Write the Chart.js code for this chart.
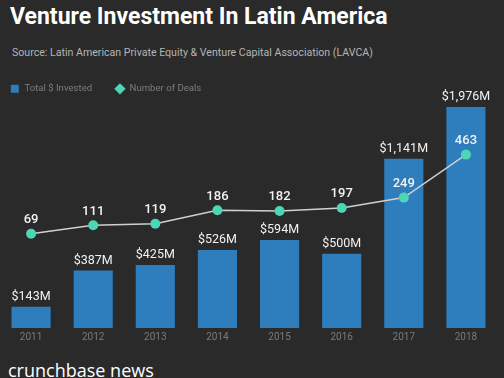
<!DOCTYPE html>
<html>
<head>
<meta charset="utf-8">
<script src="https://cdn.jsdelivr.net/npm/chart.js@4/dist/chart.umd.min.js"></script>
<style>
  html, body { margin: 0; padding: 0; background: #2a2a2a; }
  body { width: 504px; height: 378px; position: relative; overflow: hidden; font-family: Roboto, "Open Sans", sans-serif; }
  #title { position: absolute; left: 10px; top: 3px; color: #ffffff; font-weight: bold; font-size: 23px; white-space: nowrap; }
  #source { position: absolute; left: 12px; top: 46px; color: #b5b5b5; font-size: 10.6px; white-space: nowrap; }
  #brand { position: absolute; left: 8px; top: 358px; color: #ffffff; font-size: 18px; font-family: "Open Sans", sans-serif; white-space: nowrap; }
  #wrap { position: absolute; left: 0; top: 76px; width: 504px; height: 270px; }
</style>
</head>
<body>
<div id="title">Venture Investment In Latin America</div>
<div id="source">Source: Latin American Private Equity &amp; Venture Capital Association (LAVCA)</div>
<div id="wrap"><canvas id="myChart"></canvas></div>
<div id="brand">crunchbase news</div>
<script>
var years = ['2011', '2012', '2013', '2014', '2015', '2016', '2017', '2018'];
var invested = [143, 387, 425, 526, 594, 500, 1141, 1976];
var deals = [69, 111, 119, 186, 182, 197, 249, 463];

var blue = '#2e7dbc';
var teal = '#4cd6b6';

function money(v) {
    return '$' + v.toLocaleString('en-US') + 'M';
}

// value labels above bars and points
var valueLabels = {
    id: 'valueLabels',
    afterDatasetsDraw: function (chart) {
        var ctx = chart.ctx;
        var top = chart.chartArea.top;
        ctx.save();
        ctx.textAlign = 'center';
        ctx.textBaseline = 'middle';
        ctx.fillStyle = '#f2f2f2';

        ctx.font = '12.5px Roboto';
        chart.getDatasetMeta(1).data.forEach(function (bar, i) {
            var y = Math.max(bar.y, top);
            ctx.fillText(money(invested[i]), bar.x, y - 10);
        });

        ctx.font = '500 13px Roboto';
        chart.getDatasetMeta(0).data.forEach(function (pt, i) {
            ctx.fillText(deals[i], pt.x, pt.y - 14);
        });
        ctx.restore();
    }
};

// legend: fixed height, and nudged up/left so wide item spacing keeps the left edge
var fixLegend = {
    id: 'fixLegend',
    beforeInit: function (chart) {
        var fit = chart.legend.fit;
        chart.legend.fit = function () {
            fit.call(this);
            this.height = 31;
        };
    },
    afterLayout: function (chart) {
        chart.legend.left -= 13;
        chart.legend.top -= 15;
    }
};

var ctx = document.getElementById('myChart').getContext('2d');
var myChart = new Chart(ctx, {
    type: 'bar',
    data: {
        labels: years,
        datasets: [{
            type: 'line',
            label: 'Number of Deals',
            data: deals,
            yAxisID: 'y1',
            borderColor: '#d0d0d0',
            borderWidth: 1.5,
            backgroundColor: teal,
            pointBackgroundColor: teal,
            pointBorderColor: teal,
            pointRadius: 5,
            pointBorderWidth: 0,
            order: 0
        }, {
            type: 'bar',
            label: 'Total $ Invested',
            data: invested,
            yAxisID: 'y',
            backgroundColor: blue,
            barPercentage: 0.63,
            categoryPercentage: 1,
            clip: 0,
            order: 1
        }]
    },
    options: {
        responsive: true,
        maintainAspectRatio: false,
        animation: false,
        layout: {
            autoPadding: false,
            padding: { left: 0, right: 7, top: 0, bottom: 0 }
        },
        plugins: {
            tooltip: { enabled: false },
            legend: {
                position: 'top',
                align: 'start',
                labels: {
                    color: '#7c7c7c',
                    font: { family: 'Roboto', size: 9.6 },
                    boxWidth: 12,
                    boxHeight: 8,
                    padding: 23,
                    usePointStyle: true,
                    generateLabels: function (chart) {
                        return [{
                            text: 'Total $ Invested',
                            fillStyle: blue,
                            strokeStyle: blue,
                            lineWidth: 0,
                            pointStyle: 'rect',
                            fontColor: '#7c7c7c',
                            datasetIndex: 1
                        }, {
                            text: 'Number of Deals',
                            fillStyle: teal,
                            strokeStyle: teal,
                            lineWidth: 0,
                            pointStyle: 'rectRot',
                            fontColor: '#7c7c7c',
                            datasetIndex: 0
                        }];
                    }
                }
            }
        },
        scales: {
            x: {
                grid: { display: false, drawTicks: false },
                border: { display: false },
                ticks: {
                    color: '#7a7a7a',
                    font: { family: 'Roboto', size: 10 },
                    padding: 3
                },
                afterFit: function (scale) {
                    scale.paddingLeft = 0;
                    scale.paddingRight = 0;
                }
            },
            y: {
                display: false,
                min: 0,
                max: 1490
            },
            y1: {
                display: false,
                min: -400,
                max: 700
            }
        }
    },
    plugins: [fixLegend, valueLabels]
});
</script>
</body>
</html>
